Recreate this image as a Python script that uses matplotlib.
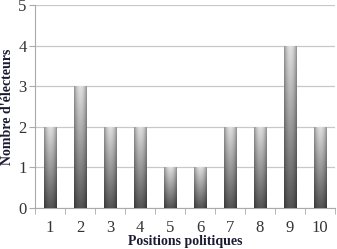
import numpy as np
import matplotlib.pyplot as plt

positions = ['1', '2', '3', '4', '5', '6', '7', '8', '9', '10']
electeurs = [2, 3, 2, 2, 1, 1, 2, 2, 4, 2]

plt.rcParams['font.family'] = ['Liberation Serif', 'DejaVu Serif']

fig = plt.figure(figsize=(3.37, 2.49), dpi=100)
ax = fig.add_axes([0.104, 0.165, 0.89, 0.815])

x = np.arange(len(positions))
bars = ax.bar(x, electeurs, width=0.43, color='#888888', edgecolor='none', zorder=2)

# degradé gris: clair en haut, sombre en bas, bords plus sombres
vert = np.linspace(0.88, 0.33, 100)[:, None]
horiz = 1 - 0.35 * np.abs(np.linspace(-1, 1, 40))[None, :] ** 2
grad = vert * horiz
for b in bars:
    x0, y0 = b.get_x(), b.get_y()
    w, h = b.get_width(), b.get_height()
    im = ax.imshow(grad, cmap='gray', vmin=0, vmax=1, aspect='auto',
                   extent=[x0, x0 + w, y0, y0 + h], origin='upper', zorder=3)
    im.set_clip_path(b)

ax.set_xlim(-0.5, len(positions) - 0.5)
ax.set_ylim(0, 5)
ax.set_yticks(range(6))
ax.set_xticks(x)
ax.set_xticklabels(positions)
ax.set_xticks(np.arange(-0.5, len(positions), 1), minor=True)
ax.tick_params(axis='x', which='major', length=0, pad=9, labelsize=12, colors='#333333')
ax.tick_params(axis='x', which='minor', length=4, color='#aaaaaa')
ax.tick_params(axis='y', length=4, color='#aaaaaa', labelsize=12, labelcolor='#333333', pad=2)

ax.grid(axis='y', color='#c8c8c8', linewidth=0.9, zorder=0)
for s in ['top', 'right']:
    ax.spines[s].set_visible(False)
ax.spines['left'].set_color('#aaaaaa')
ax.spines['bottom'].set_color('#aaaaaa')

ax.set_xlabel('Positions politiques', fontsize=10, fontweight='bold', color='#1a1a33', labelpad=-1)
ax.set_ylabel("Nombre d'électeurs", fontsize=10, fontweight='bold', color='#1a1a33', labelpad=3)

fig.savefig('out.png', dpi=100)
